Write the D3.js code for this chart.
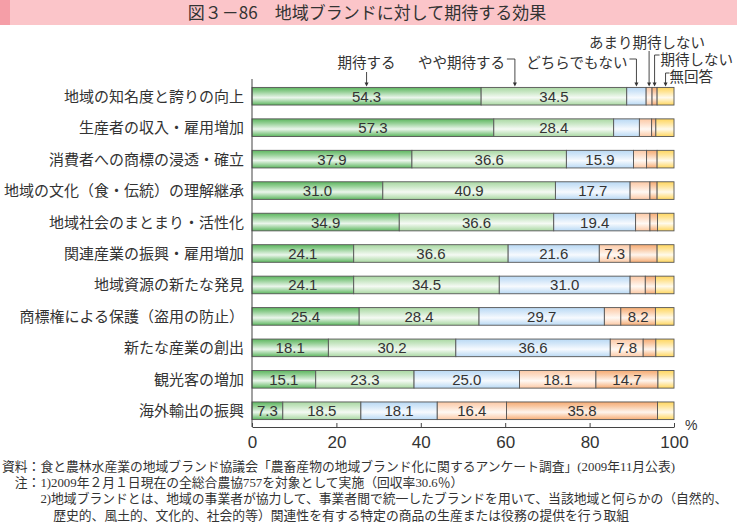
<!DOCTYPE html>
<html><head><meta charset="utf-8">
<script src="https://cdn.jsdelivr.net/npm/d3@7"></script>
<style>
html,body{margin:0;padding:0;background:#fff;}
svg{display:block;}
</style></head>
<body>
<svg id="chart" width="737" height="522"></svg>
<script>
const categories = ["地域の知名度と誇りの向上","生産者の収入・雇用増加","消費者への商標の浸透・確立","地域の文化（食・伝統）の理解継承","地域社会のまとまり・活性化","関連産業の振興・雇用増加","地域資源の新たな発見","商標権による保護（盗用の防止）","新たな産業の創出","観光客の増加","海外輸出の振興"];
const seriesNames = ["期待する","やや期待する","どちらでもない","あまり期待しない","期待しない","無回答"];
const expect      = [54.3,57.3,37.9,31.0,34.9,24.1,24.1,25.4,18.1,15.1,7.3];
const someExpect  = [34.5,28.4,36.6,40.9,36.6,36.6,34.5,28.4,30.2,23.3,18.5];
const neutral     = [4.6,6.1,15.9,17.7,19.4,21.6,31.0,29.7,36.6,25.0,18.1];
const littleExpect= [1.4,2.9,3.1,4.7,3.4,7.3,3.6,3.9,7.8,18.1,16.4];
const noExpect    = [1.2,1.0,2.5,1.7,1.8,6.4,2.4,8.2,3.0,14.7,35.8];
const noAnswer    = [4.0,4.3,4.0,4.0,3.9,4.0,4.4,4.4,4.3,3.8,3.9];
const xTicks = [0,20,40,60,80,100];
const title = "図３－86　地域ブランドに対して期待する効果";
const notes = [
  "資料：食と農林水産業の地域ブランド協議会「農畜産物の地域ブランド化に関するアンケート調査」(2009年11月公表)",
  "　注：1)2009年２月１日現在の全総合農協757を対象として実施（回収率30.6％）",
  "　　　2)地域ブランドとは、地域の事業者が協力して、事業者間で統一したブランドを用いて、当該地域と何らかの（自然的、",
  "　　　　歴史的、風土的、文化的、社会的等）関連性を有する特定の商品の生産または役務の提供を行う取組"
];

const seriesData = [expect, someExpect, neutral, littleExpect, noExpect, noAnswer];
const baseColors = ["#5cb65e","#a9d8a2","#b9d9f4","#fcc9a5","#f6ab72","#ffd65e"];

const svg = d3.select("#chart");
const jp = "'Noto Sans CJK JP','Noto Sans',sans-serif";
const jpTight = "'Liberation Sans','Noto Sans CJK JP',sans-serif";
const serifJp = "'Liberation Serif','Noto Sans CJK JP',serif";
const num = "'Liberation Sans','Noto Sans CJK JP',sans-serif";

// title band
svg.append("rect").attr("x",0).attr("y",0).attr("width",737).attr("height",25).attr("fill","#fbc5c9");
svg.append("rect").attr("x",0).attr("y",0).attr("width",10).attr("height",25).attr("fill","#f59ea7");
svg.append("text").attr("x",367).attr("y",19).attr("text-anchor","middle")
  .attr("font-family",jp).attr("font-size",17).attr("fill","#333").text(title);

// gradients
const defs = svg.append("defs");
baseColors.forEach((c,i)=>{
  const g = defs.append("linearGradient").attr("id","g"+i).attr("x1",0).attr("y1",0).attr("x2",0).attr("y2",1);
  g.append("stop").attr("offset","0%").attr("stop-color",c);
  g.append("stop").attr("offset","25%").attr("stop-color",d3.interpolateRgb(c,"#fff")(0.35));
  g.append("stop").attr("offset","58%").attr("stop-color",d3.interpolateRgb(c,"#fff")(0.88));
  g.append("stop").attr("offset","100%").attr("stop-color",c);
});

const x = d3.scaleLinear().domain([0,100]).range([252,674]);
const y = d3.scaleBand().domain(categories).range([80.5,426.5]).paddingInner(0.44).paddingOuter(0.22);

// stacked
const rows = categories.map((c,i)=>{
  const o = {cat:c};
  seriesNames.forEach((s,j)=>o[s]=seriesData[j][i]);
  return o;
});
const stack = d3.stack().keys(seriesNames)(rows);

const gBars = svg.append("g");
stack.forEach((layer,j)=>{
  gBars.append("g").selectAll("rect").data(layer).join("rect")
    .attr("x",d=>x(d[0])).attr("width",d=>x(d[1])-x(d[0]))
    .attr("y",d=>y(d.data.cat)).attr("height",y.bandwidth())
    .attr("fill","url(#g"+j+")").attr("stroke","#555").attr("stroke-width",0.9);
});
stack.forEach((layer,j)=>{
  svg.append("g").selectAll("text").data(layer.filter(d=>d[1]-d[0]>=7)).join("text")
    .attr("x",d=>x((d[0]+d[1])/2)).attr("y",d=>y(d.data.cat)+y.bandwidth()/2+5.5)
    .attr("text-anchor","middle").attr("font-family",num).attr("font-size",15).attr("fill","#333")
    .text(d=>(d[1]-d[0]).toFixed(1));
});

// category labels
svg.append("g").selectAll("text").data(categories).join("text")
  .attr("x",244).attr("y",d=>y(d)+y.bandwidth()/2+5.5).attr("text-anchor","end")
  .attr("font-family",jp).attr("font-size",15).attr("fill","#333").text(d=>d);

// axes
svg.append("line").attr("x1",x(0)).attr("x2",x(0)).attr("y1",79).attr("y2",427).attr("stroke","#444").attr("stroke-width",1);
const xAxis = d3.axisBottom(x).tickValues(xTicks).tickSize(0).tickPadding(6);
const ga = svg.append("g").attr("transform","translate(0,427)").call(xAxis);
ga.select(".domain").attr("stroke","#444");
ga.selectAll(".tick line").remove();
ga.selectAll(".tick").append("line").attr("y1",0).attr("y2",-4).attr("stroke","#444");
ga.selectAll("text").attr("font-family",num).attr("font-size",17).attr("fill","#333").attr("dy","0.9em");
svg.append("text").attr("x",685).attr("y",430).attr("font-family",num).attr("font-size",14).attr("fill","#333").text("%");

// legend annotations
const r0 = stack.map(l=>l[0]);
const mid = j=>x((r0[j][0]+r0[j][1])/2);
const barTop = y(categories[0]);
const ann = svg.append("g").attr("font-family",jpTight).attr("font-size",14.5).attr("fill","#333");
const lineC = "#333";
function arrow(ax, y0){
  ann.append("line").attr("x1",ax).attr("x2",ax).attr("y1",y0).attr("y2",barTop-3).attr("stroke",lineC).attr("stroke-width",0.9);
  ann.append("path").attr("d",`M${ax-2},${barTop-5}L${ax+2},${barTop-5}L${ax},${barTop-1}Z`).attr("fill",lineC);
}
// 期待する
ann.append("text").attr("x",mid(0)).attr("y",68).attr("text-anchor","middle").text(seriesNames[0]);
arrow(mid(0),72);
// やや期待する
const a1 = x(62.3);
ann.append("text").attr("x",a1-10).attr("y",68).attr("text-anchor","end").text(seriesNames[1]);
ann.append("path").attr("d",`M${a1-8},59H${a1}`).attr("stroke",lineC).attr("fill","none").attr("stroke-width",0.9);
arrow(a1,59);
// どちらでもない
const a2 = mid(2);
ann.append("text").attr("x",a2-9).attr("y",68).attr("text-anchor","end").text(seriesNames[2]);
ann.append("path").attr("d",`M${a2-7},59H${a2}`).attr("stroke",lineC).attr("fill","none").attr("stroke-width",0.9);
arrow(a2,59);
// あまり期待しない
const a3 = mid(3);
ann.append("text").attr("x",a3-60).attr("y",48).text(seriesNames[3]);
arrow(a3,51);
// 期待しない
const a4 = mid(4);
ann.append("text").attr("x",a4+6).attr("y",65).text(seriesNames[4]);
ann.append("path").attr("d",`M${a4+5},55H${a4}`).attr("stroke",lineC).attr("fill","none").attr("stroke-width",0.9);
arrow(a4,55);
// 無回答
const a5 = mid(5);
ann.append("text").attr("x",a5+4).attr("y",82).text(seriesNames[5]);
ann.append("path").attr("d",`M${a5+4},73H${a5}`).attr("stroke",lineC).attr("fill","none").attr("stroke-width",0.9);
arrow(a5,73);

// notes
svg.append("g").selectAll("text").data(notes).join("text")
  .attr("x",2).attr("y",(d,i)=>471+i*16.2)
  .attr("font-family",serifJp).attr("font-size",12.8).attr("fill","#333").text(d=>d);
</script>
</body></html>
